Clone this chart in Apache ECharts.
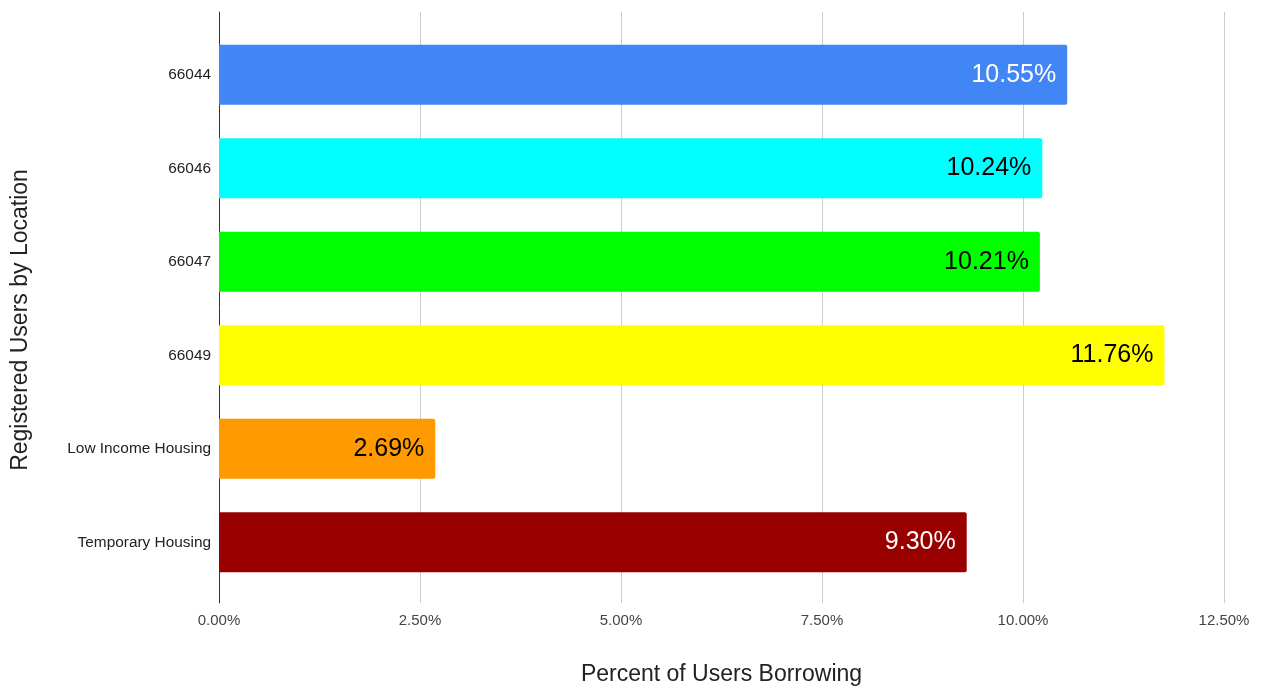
<!DOCTYPE html>
<html>
<head>
<meta charset="utf-8">
<script src="https://cdn.jsdelivr.net/npm/echarts@6/dist/echarts.min.js"></script>
<style>
  html, body { margin: 0; padding: 0; background: #ffffff; }
  #chart { width: 1263px; height: 688px; }
</style>
</head>
<body>
<div id="chart"></div>
<script>
// Share of registered users who borrowed, by location
const locations = ['66044', '66046', '66047', '66049', 'Low Income Housing', 'Temporary Housing'];
const borrowPercent = [10.55, 10.24, 10.21, 11.76, 2.69, 9.30];
const barColors = ['#4285f4', '#00ffff', '#00ff00', '#ffff00', '#ff9900', '#980000'];
const labelColors = ['#ffffff', '#000000', '#000000', '#000000', '#000000', '#ffffff'];
const xTicks = { min: 0, max: 12.5, interval: 2.5 };

const FONT = 'Arial, "Liberation Sans", sans-serif';
const pct = v => v.toFixed(2) + '%';

const chart = echarts.init(document.getElementById('chart'), null, { renderer: 'canvas' });

chart.setOption({
  backgroundColor: '#ffffff',
  animation: false,
  textStyle: { fontFamily: FONT },
  grid: [
    // bars
    { left: 219, right: 39, top: 28, height: 561, containLabel: false, outerBoundsMode: 'none' },
    // frame: vertical gridlines, baseline and tick labels
    { left: 219, right: 39, top: 12, height: 591, containLabel: false, outerBoundsMode: 'none' }
  ],
  xAxis: [
    {
      gridIndex: 0, type: 'value', show: false,
      min: xTicks.min, max: xTicks.max, interval: xTicks.interval
    },
    {
      gridIndex: 1, type: 'value',
      min: xTicks.min, max: xTicks.max, interval: xTicks.interval,
      axisLine: { show: false },
      axisTick: { show: false },
      splitLine: { show: true, lineStyle: { color: '#cccccc', width: 1 } },
      axisLabel: { formatter: pct, color: '#444444', fontSize: 15, margin: 10, fontFamily: FONT },
      name: 'Percent of Users Borrowing',
      nameLocation: 'middle',
      nameGap: 60,
      nameTextStyle: { color: '#222222', fontSize: 23, fontFamily: FONT }
    }
  ],
  yAxis: [
    {
      gridIndex: 0, type: 'category', data: locations, inverse: true,
      axisLine: { show: false },
      axisTick: { show: false },
      splitLine: { show: false },
      axisLabel: { color: '#222222', fontSize: 15.4, margin: 8, fontFamily: FONT }
    },
    {
      gridIndex: 1, type: 'value', min: 0, max: 1,
      axisLine: { show: true, onZero: false, lineStyle: { color: '#333333', width: 1 } },
      axisTick: { show: false },
      axisLabel: { show: false },
      splitLine: { show: false }
    }
  ],
  graphic: [
    {
      type: 'text',
      rotation: Math.PI / 2,
      x: 21, y: 320,
      style: {
        text: 'Registered Users by Location',
        fontSize: 23, fontFamily: FONT, fill: '#222222',
        textAlign: 'center', textVerticalAlign: 'middle'
      }
    }
  ],
  series: [
    {
      type: 'bar',
      xAxisIndex: 0, yAxisIndex: 0,
      barWidth: 60,
      z: 3,
      data: borrowPercent.map((v, i) => ({
        value: v,
        itemStyle: { color: barColors[i], borderRadius: [0, 2, 2, 0] },
        label: { color: labelColors[i] }
      })),
      label: {
        show: true,
        position: 'insideRight',
        distance: 11,
        formatter: p => pct(p.value),
        fontSize: 25,
        fontFamily: FONT
      }
    }
  ]
});
</script>
</body>
</html>
